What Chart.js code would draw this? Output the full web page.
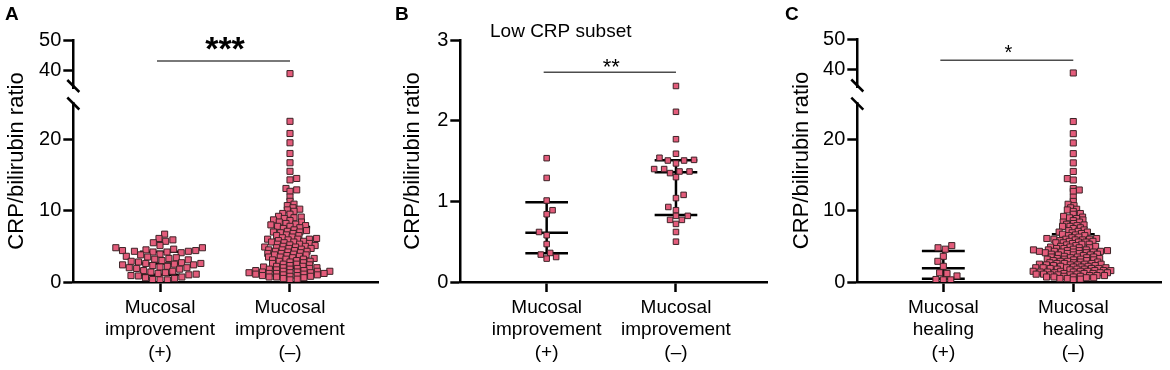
<!DOCTYPE html>
<html>
<head>
<meta charset="utf-8">
<title>CRP/bilirubin ratio</title>
<script src="https://cdn.jsdelivr.net/npm/chart.js"></script>
<style>
  body { margin: 0; background: #fff; }
  .panel { position: absolute; top: 0; width: 390px; height: 370px; }
</style>
</head>
<body>
<div class="panel" style="left:0"><canvas id="chartA" width="390" height="370"></canvas></div>
<div class="panel" style="left:390px"><canvas id="chartB" width="390" height="370"></canvas></div>
<div class="panel" style="left:780px"><canvas id="chartC" width="390" height="370"></canvas></div>
<script>
// ---- values ----
const improvementPos = [6.7, 6.1, 5.9, 5.7, 5.5, 5.1, 4.8, 4.8, 4.6, 4.5, 4.4, 4.4, 4.3, 4.3, 4.2, 4.2, 4.1,
  3.9, 3.8, 3.6, 3.5, 3.4, 3.3, 3.2, 3.1, 3.0, 2.9, 2.8, 2.7, 2.6, 2.6, 2.5, 2.4, 2.4, 2.3, 2.2, 2.1,
  2.0, 2.0, 1.9, 1.8, 1.6, 1.5, 1.4, 1.3, 1.2, 1.1, 1.0, 0.9, 0.85, 0.7, 0.6, 0.5, 0.35, 0.3, 0.3];
const improvementNeg = [38.8, 22.5, 20.8, 19.5, 18.0, 16.7, 15.5, 14.5, 14.3, 13.1, 12.9, 12.7, 11.9, 11.3,
  10.9, 10.7, 10.4, 10.2, 10.1, 9.9, 9.6, 9.5, 9.2, 9.1, 9.0, 8.9, 8.7, 8.6, 8.4, 8.4, 8.2, 8.1, 8.0,
  7.9, 7.8, 7.8, 7.6, 7.5, 7.3, 7.2, 7.1, 7.0, 7.0, 6.9, 6.8, 6.6, 6.5, 6.5, 6.3, 6.2, 6.1, 6.0, 6.0, 6.0, 5.9,
  5.8, 5.7, 5.6, 5.6, 5.5, 5.4, 5.3, 5.3, 5.2, 5.1, 5.0, 5.0, 4.9, 4.9, 4.8, 4.7, 4.7, 4.6, 4.5, 4.5,
  4.4, 4.3, 4.3, 4.2, 4.1, 4.0, 4.0, 3.9, 3.8, 3.8, 3.7, 3.6, 3.5, 3.5, 3.4, 3.3, 3.2, 3.2, 3.1, 3.0,
  2.9, 2.9, 2.8, 2.7, 2.6, 2.5, 2.5, 2.4, 2.3, 2.2, 2.2, 2.1, 2.0, 2.0, 1.9, 1.9,
  1.8, 1.8, 1.7, 1.6, 1.6, 1.5, 1.5, 1.5, 1.4, 1.4, 1.3, 1.3, 1.3, 1.2, 1.2, 1.2, 1.1, 1.1, 1.0, 1.0,
  0.9, 0.9, 0.8, 0.8, 0.7, 0.7, 0.6, 0.5, 0.4, 0.3];
const subsetPos = [1.535, 1.29, 1.01, 0.89, 0.84, 0.62, 0.58, 0.47, 0.36, 0.34, 0.31, 0.29];
const subsetNeg = [2.43, 2.11, 1.77, 1.59, 1.54, 1.514, 1.506, 1.506, 1.47, 1.40, 1.40, 1.37, 1.37, 1.35,
  1.30, 1.08, 1.04, 0.93, 0.89, 0.82, 0.82, 0.77, 0.77, 0.72, 0.62, 0.50];
const healingPos = [5.1, 4.8, 4.6, 3.6, 2.9, 2.2, 1.3, 1.2, 0.85, 0.35, 0.3, 0.3];
const healingNeg = [38.8, 22.5, 20.8, 19.5, 18.0, 16.7, 15.5, 14.5, 14.3, 13.1, 12.9, 12.7, 11.9, 11.3,
  10.9, 10.7, 10.4, 10.2, 10.1, 9.9, 9.6, 9.5, 9.2, 9.1, 9.0, 8.9, 8.7, 8.6, 8.4, 8.4, 8.2, 8.1, 8.0,
  7.9, 7.8, 7.8, 7.6, 7.5, 7.3, 7.2, 7.1, 7.0, 7.0,
  6.9, 6.8, 6.7, 6.6, 6.5, 6.5, 6.3, 6.2, 6.1, 6.1, 6.0, 6.0, 6.0, 5.9, 5.9,
  5.8, 5.7, 5.7, 5.6, 5.6, 5.5, 5.5, 5.4, 5.3, 5.3, 5.2, 5.1, 5.0, 5.0, 4.9, 4.9, 4.8, 4.8, 4.7, 4.7, 4.6, 4.5, 4.5, 4.5,
  4.4, 4.4, 4.4, 4.3, 4.3, 4.3, 4.2, 4.2, 4.2, 4.1, 4.1, 4.0, 4.0, 3.9, 3.9, 3.8, 3.8, 3.8, 3.7, 3.6,
  3.5, 3.5, 3.5, 3.4, 3.4, 3.3, 3.3, 3.2, 3.2, 3.2, 3.1, 3.1, 3.0, 3.0,
  2.9, 2.9, 2.8, 2.8, 2.7, 2.7, 2.6, 2.6, 2.6, 2.5, 2.5, 2.5, 2.4, 2.4, 2.4, 2.3, 2.3, 2.2, 2.2, 2.1, 2.1,
  2.0, 2.0, 2.0, 2.0, 1.9, 1.9, 1.9,
  1.8, 1.8, 1.8, 1.7, 1.6, 1.6, 1.6, 1.5, 1.5, 1.5, 1.5, 1.4, 1.4, 1.4, 1.3, 1.3, 1.3, 1.2, 1.2, 1.2,
  1.1, 1.1, 1.1, 1.0, 1.0, 1.0, 0.9, 0.9, 0.9, 0.8, 0.8, 0.7, 0.7, 0.7, 0.6, 0.6, 0.5, 0.5, 0.4, 0.3];

// median and interquartile range bars (+, -)
const improvementMedian = [2.6, 4.6];
const improvementQ1 = [1.0, 2.0];
const improvementQ3 = [4.25, 7.7];
const subsetMedian = [0.61, 1.36];
const subsetQ1 = [0.355, 0.83];
const subsetQ3 = [0.99, 1.51];
const healingMedian = [1.92, 4.1];
const healingQ1 = [0.45, 2.0];
const healingQ3 = [4.35, 6.7];

const improvementLabels = [['Mucosal', 'improvement', '(+)'], ['Mucosal', 'improvement', '(\u2013)']];
const healingLabels = [['Mucosal', 'healing', '(+)'], ['Mucosal', 'healing', '(\u2013)']];
const brokenLowTicks = [0, 10, 20];
const brokenHighTicks = [40, 50];
const subsetTicks = [0, 1, 2, 3];
const yTitle = 'CRP/bilirubin ratio';

// ---- drawing ----
const FONT = '"Liberation Sans", Arial, sans-serif';
Chart.defaults.font.family = FONT;
Chart.defaults.color = '#000';
const PINK = '#e35c7b';
const EDGE = '#3d2327';

// beeswarm offsets in pixels (elliptical spacing), bottom point first
function swarm(pys, sx, sy) {
  const order = pys.map((_, i) => i).sort((a, b) => pys[b] - pys[a]);
  const placed = [];
  const out = new Array(pys.length);
  let flip = 1;
  order.forEach(i => {
    const y = pys[i];
    const near = placed.filter(p => Math.abs(p.y - y) < sy);
    const cands = [0];
    near.forEach(p => {
      const dy = (p.y - y) / sy;
      const w = sx * Math.sqrt(1 - dy * dy);
      cands.push(p.x + w, p.x - w);
    });
    cands.sort((a, b) => (Math.abs(a) - Math.abs(b)) || (flip * (b - a)));
    const x = cands.find(c => near.every(p => {
      const dx = (p.x - c) / sx, dy = (p.y - y) / sy;
      return dx * dx + dy * dy >= 1 - 1e-6;
    }));
    if (x !== 0) flip = -flip;
    out[i] = x;
    placed.push({ x, y });
  });
  return out;
}

function fitSwarm(pys, sx, sy, maxHalf) {
  let xs;
  for (let s = sy; s >= 1; s -= 0.25) {
    xs = swarm(pys, sx, s);
    if (Math.max(...xs.map(Math.abs)) <= maxHalf) break;
  }
  return xs;
}

function annotations(spec) {
  return {
    id: 'annot' + spec.letter,
    afterDraw(chart) {
      const ctx = chart.ctx;
      const xs = chart.scales.x;
      ctx.save();
      ctx.fillStyle = '#000';
      ctx.textBaseline = 'alphabetic';
      ctx.textAlign = 'left';
      ctx.font = 'bold 19px ' + FONT;
      ctx.fillText(spec.letter, 5, 20);
      if (spec.subtitle) {
        ctx.font = '19px ' + FONT;
        ctx.fillText(spec.subtitle, 100, 37);
      }
      // significance bracket
      const ys = chart.scales[spec.sig.scale].getPixelForValue(spec.sig.y);
      const x1 = xs.getPixelForValue(1), x2 = xs.getPixelForValue(2);
      ctx.strokeStyle = '#4d4d4d';
      ctx.lineWidth = 1.5;
      ctx.beginPath();
      ctx.moveTo(x1 - 3, ys);
      ctx.lineTo(x2, ys);
      ctx.stroke();
      ctx.font = spec.sig.font;
      ctx.textAlign = 'center';
      const m = ctx.measureText(spec.sig.text);
      const cy = ys - spec.sig.rise;
      ctx.fillText(spec.sig.text, (x1 + x2) / 2, cy + (m.actualBoundingBoxAscent - m.actualBoundingBoxDescent) / 2);
      // axis break marks
      if (spec.cut) {
        const ax = chart.scales.yLow.right;
        ctx.strokeStyle = '#000';
        ctx.lineWidth = 2.5;
        [chart.scales.yHigh.bottom - 2, chart.scales.yLow.top].forEach(y => {
          ctx.beginPath();
          ctx.moveTo(ax - 6, y - 6);
          ctx.lineTo(ax + 6, y + 6);
          ctx.stroke();
        });
      }
      ctx.restore();
    }
  };
}

function axisY(spec, min, max, ticks, extra) {
  return Object.assign({
    type: 'linear',
    position: 'left',
    min: min,
    max: max,
    afterBuildTicks: s => { s.ticks = ticks.map(v => ({ value: v })); },
    ticks: { font: { size: 20 }, padding: 2, color: '#000' },
    grid: { drawOnChartArea: false, tickLength: 10, tickWidth: 2.5, tickColor: '#000' },
    border: { color: '#000', width: 2.5 },
    afterFit: s => { s.width = spec.axisW; }
  }, extra);
}

function makePanel(spec) {
  const datasets = [];
  const groups = spec.groups.map(g => Object.assign({}, g));
  groups.forEach((g, gi) => {
    const isHigh = v => spec.cut && v > spec.cut;
    const pointSet = (vals, axis) => ({
      data: vals.map(v => ({ x: gi + 1, y: v })),
      yAxisID: axis,
      showLine: false,
      pointStyle: 'rect',
      pointRadius: spec.pointR,
      pointBackgroundColor: PINK,
      pointBorderColor: EDGE,
      pointBorderWidth: 1,
      order: 0
    });
    g.dsLow = datasets.length;
    datasets.push(pointSet(g.values.filter(v => !isHigh(v)), 'yLow'));
    if (spec.cut) {
      g.dsHigh = datasets.length;
      datasets.push(pointSet(g.values.filter(isHigh), 'yHigh'));
    }
  });

  // median + IQR bars
  const barData = [];
  groups.forEach((g, gi) => {
    const c = gi + 1, w = spec.barHalf;
    [g.q3, g.median, g.q1].forEach(v => {
      barData.push({ x: c - w, y: v }, { x: c + w, y: v }, { x: c, y: null });
    });
    barData.push({ x: c, y: g.q1 }, { x: c, y: g.q3 }, { x: c, y: null });
  });
  datasets.push({
    data: barData, yAxisID: 'yLow', showLine: true, spanGaps: false,
    borderColor: '#000', borderWidth: 2.5, pointRadius: 0, borderCapStyle: 'butt', order: 1
  });

  const scales = {
    x: {
      type: 'linear',
      position: 'bottom',
      min: spec.xMin,
      max: spec.xMax,
      afterBuildTicks: s => { s.ticks = [{ value: 1 }, { value: 2 }]; },
      ticks: {
        callback: (v, i) => spec.labels[i],
        font: { size: 19, lineHeight: 1.2 },
        color: '#000',
        padding: 4,
        maxRotation: 0,
        autoSkip: false
      },
      grid: { drawOnChartArea: false, tickLength: 10, tickWidth: 2.5, tickColor: '#000' },
      border: { color: '#000', width: 2.5 },
      afterFit: s => { s.height = 88; }
    },
    yt: {
      type: 'linear',
      position: 'left',
      weight: 10,
      min: 0,
      max: 1,
      ticks: { display: false },
      grid: { display: false },
      border: { display: false },
      title: { display: true, text: yTitle, font: { size: 22 }, color: '#000', padding: { top: spec.titlePad, bottom: 0 } },
      afterFit: s => { s.width = spec.titleW; }
    }
  };
  if (spec.cut) {
    scales.yHigh = axisY(spec, spec.highMin, spec.highMax, spec.highTicks,
      { stack: 'v', stackWeight: spec.highWeight, weight: 3 });
    scales.yGap = { type: 'linear', position: 'left', display: false, stack: 'v',
      stackWeight: spec.gapWeight, weight: 2, min: 0, max: 1 };
    scales.yLow = axisY(spec, 0, spec.lowMax, spec.lowTicks,
      { stack: 'v', stackWeight: spec.lowWeight, weight: 1 });
  } else {
    scales.yLow = axisY(spec, 0, spec.lowMax, spec.lowTicks, { weight: 1 });
  }

  const chart = new Chart(document.getElementById(spec.canvas), {
    type: 'scatter',
    data: { datasets },
    options: {
      responsive: false,
      animation: false,
      events: [],
      devicePixelRatio: 1,
      layout: { padding: { left: 0, top: spec.top, right: spec.right, bottom: 0 } },
      scales,
      plugins: { legend: { display: false }, tooltip: { enabled: false } }
    },
    plugins: [annotations(spec)]
  });

  // spread each group sideways so the squares sit in a swarm
  const xs = chart.scales.x;
  groups.forEach((g, gi) => {
    const isHigh = v => spec.cut && v > spec.cut;
    const c0 = xs.getPixelForValue(gi + 1);
    const pys = g.values.map(v => chart.scales[isHigh(v) ? 'yHigh' : 'yLow'].getPixelForValue(v));
    const offs = fitSwarm(pys, spec.sx, spec.sy, spec.maxHalf);
    const low = [], high = [];
    g.values.forEach((v, i) => {
      const p = { x: xs.getValueForPixel(c0 + offs[i]), y: v };
      (isHigh(v) ? high : low).push(p);
    });
    chart.data.datasets[g.dsLow].data = low;
    if (spec.cut) chart.data.datasets[g.dsHigh].data = high;
  });
  chart.update('none');
  return chart;
}

makePanel({
  canvas: 'chartA', letter: 'A',
  groups: [
    { values: improvementPos, median: improvementMedian[0], q1: improvementQ1[0], q3: improvementQ3[0] },
    { values: improvementNeg, median: improvementMedian[1], q1: improvementQ1[1], q3: improvementQ3[1] }
  ],
  labels: improvementLabels,
  xMin: 0.333, xMax: 2.677, top: 40, right: 12, titleW: 28, axisW: 45.3, titlePad: 3.8,
  cut: 30, lowMax: 25, highMin: 34, highMax: 50, lowTicks: brokenLowTicks, highTicks: brokenHighTicks,
  lowWeight: 178.5, gapWeight: 15.5, highWeight: 48,
  sig: { scale: 'yHigh', y: 43, text: '***', font: 'bold 34px ' + FONT, rise: 18 },
  barHalf: 0.155, sx: 7.4, sy: 7.4, maxHalf: 45, pointR: 4.3
});

makePanel({
  canvas: 'chartB', letter: 'B', subtitle: 'Low CRP subset',
  groups: [
    { values: subsetPos, median: subsetMedian[0], q1: subsetQ1[0], q3: subsetQ3[0] },
    { values: subsetNeg, median: subsetMedian[1], q1: subsetQ1[1], q3: subsetQ3[1] }
  ],
  labels: improvementLabels,
  xMin: 0.332, xMax: 2.704, top: 40, right: 13, titleW: 30, axisW: 40.3, titlePad: 9.3,
  cut: 0, lowMax: 3, lowTicks: subsetTicks,
  sig: { scale: 'yLow', y: 2.6, text: '**', font: '22px ' + FONT, rise: 9.5 },
  barHalf: 0.165, sx: 10, sy: 5, maxHalf: 60, pointR: 3.9
});

makePanel({
  canvas: 'chartC', letter: 'C',
  groups: [
    { values: healingPos, median: healingMedian[0], q1: healingQ1[0], q3: healingQ3[0] },
    { values: healingNeg, median: healingMedian[1], q1: healingQ1[1], q3: healingQ3[1] }
  ],
  labels: healingLabels,
  xMin: 0.338, xMax: 2.675, top: 39, right: 9, titleW: 32, axisW: 45.3, titlePad: 8.8,
  cut: 30, lowMax: 25, highMin: 34, highMax: 50, lowTicks: brokenLowTicks, highTicks: brokenHighTicks,
  lowWeight: 178.3, gapWeight: 16.2, highWeight: 48.5,
  sig: { scale: 'yHigh', y: 43, text: '*', font: '20px ' + FONT, rise: 11 },
  barHalf: 0.165, sx: 7.4, sy: 7.4, maxHalf: 45, pointR: 4.3
});
</script>
</body>
</html>
